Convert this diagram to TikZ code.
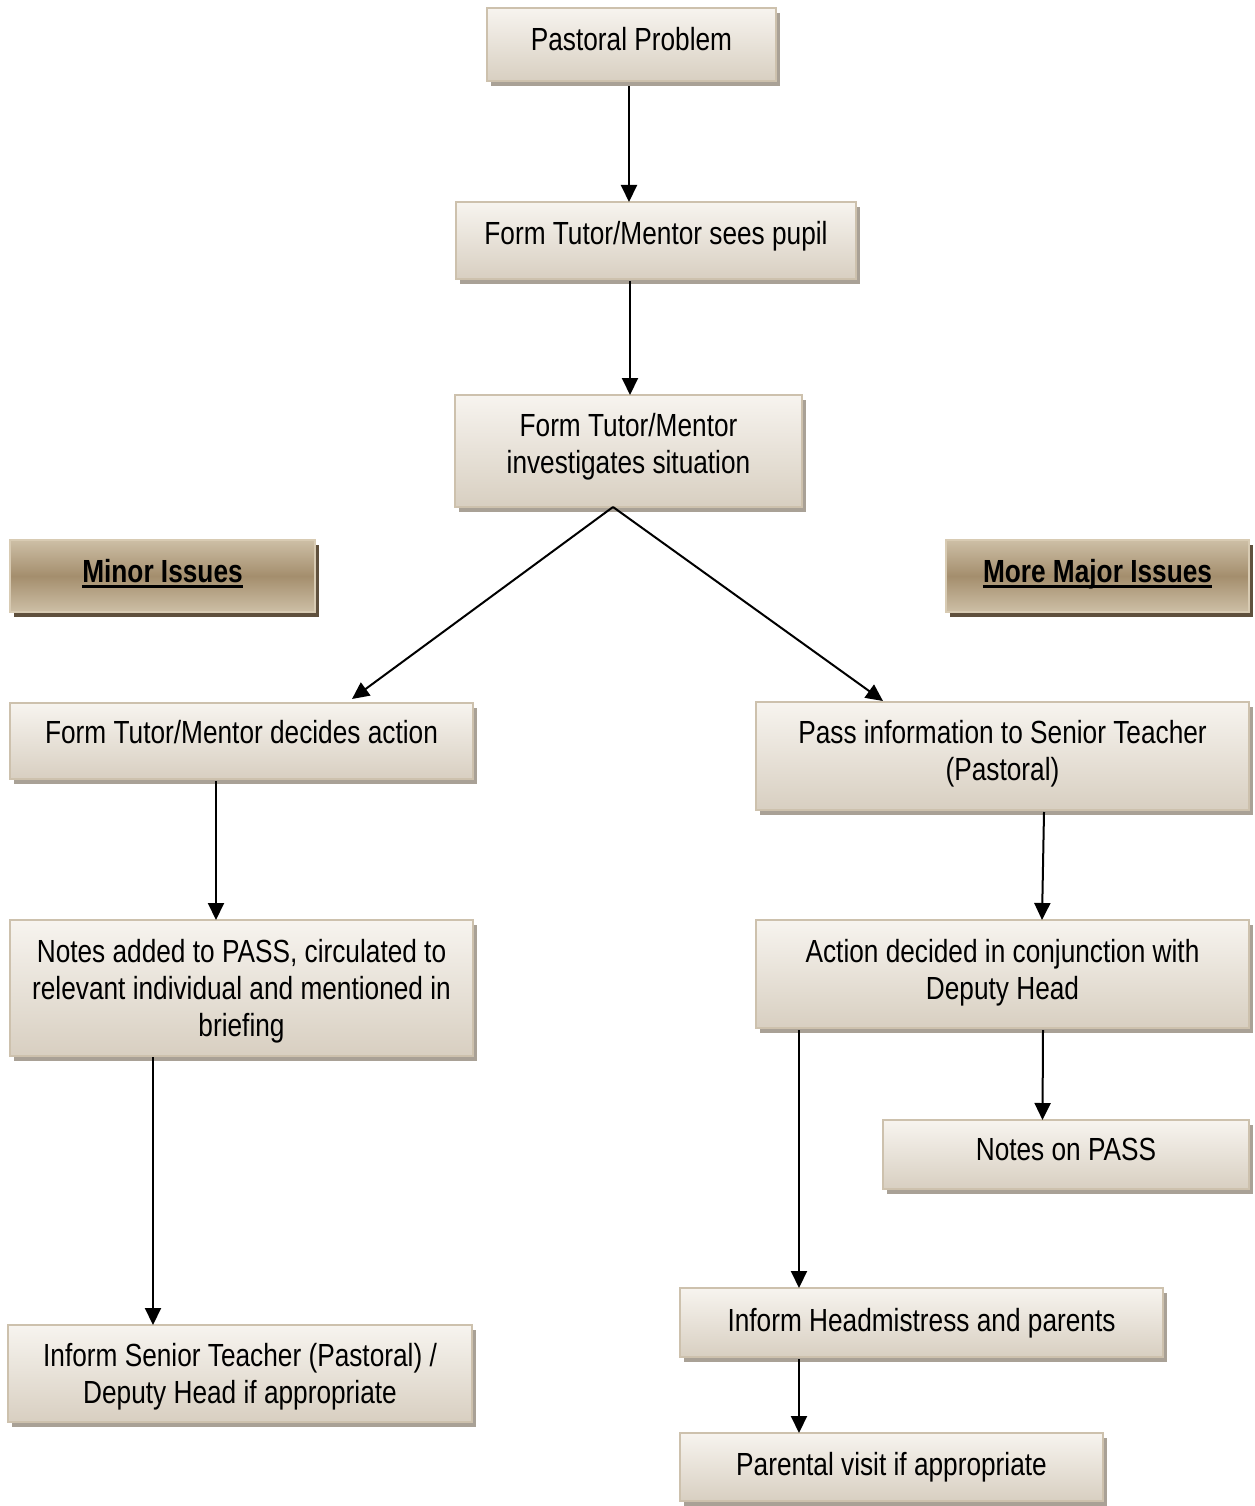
\documentclass[tikz,border=0pt]{standalone}
\usepackage{fontspec}
\setmainfont{Liberation Sans}[FakeStretch=0.82]
\usetikzlibrary{arrows.meta,shadows}
\definecolor{boxtop}{HTML}{F7F4EF}
\definecolor{boxbot}{HTML}{D8CFC1}
\definecolor{boxborder}{HTML}{CDC1AD}
\definecolor{boxshadow}{HTML}{A9A196}
\definecolor{isstop}{HTML}{CDBFA6}
\definecolor{issmid}{HTML}{A48E6D}
\definecolor{issborder}{HTML}{D8CBB3}
\definecolor{issshadow}{HTML}{5F503D}
\newcommand\mkbox[6][plainbox]{%
  \node[#1, minimum width={#5pt-#3pt}, minimum height={#6pt-#4pt}] (#2) at ({(#3+#5)/2},{(#4+#6)/2}) {};}
\begin{document}
\begin{tikzpicture}[x=1pt,y=-1pt,
  plainbox/.style={rectangle, inner sep=0pt, outer sep=0pt, draw=boxborder, line width=1.6pt,
    top color=boxtop, bottom color=boxbot,
    drop shadow={shadow xshift=4pt, shadow yshift=-5pt, fill=boxshadow, opacity=1}},
  issuebox/.style={rectangle, inner sep=0pt, outer sep=0pt, draw=issborder, line width=1.6pt,
    top color=isstop, bottom color=isstop, middle color=issmid,
    drop shadow={shadow xshift=4pt, shadow yshift=-5pt, fill=issshadow, opacity=1}},
  txt/.style={inner sep=0pt, anchor=base, align=center, font=\fontsize{32}{37}\selectfont},
  ttxt/.style={txt, text width=#1, align=flush center},
  arr/.style={draw=black, line width=2pt, -{Triangle[length=17pt,width=16pt]}},
  uline/.style={draw=black, line width=3pt}
]
\useasboundingbox (0,0) rectangle (1254,1506);

% boxes
\mkbox{n1}{487}{8}{776}{81}
\mkbox{n2}{456}{202}{856}{279}
\mkbox{n3}{455}{395}{802}{507}
\mkbox[issuebox]{n4}{10}{540}{315}{612}
\mkbox[issuebox]{n5}{946}{540}{1249}{612}
\mkbox{n6}{10}{703}{473}{779}
\mkbox{n7}{756}{702}{1249}{810}
\mkbox{n8}{10}{920}{473}{1056}
\mkbox{n9}{756}{920}{1249}{1028}
\mkbox{n10}{883}{1120}{1249}{1189}
\mkbox{n11}{680}{1288}{1163}{1357}
\mkbox{n12}{680}{1433}{1103}{1501}
\mkbox{n13}{8}{1325}{472}{1422}

% texts
\node[txt] (t1) at (631.5,50.5) {Pastoral Problem};
\node[txt] (t2) at (656,244) {Form Tutor/Mentor sees pupil};
\node[ttxt=360pt] (t3) at (628.5,436) {Form Tutor/Mentor\\investigates situation};
\node[txt] (t4) at (162.5,582) {\textbf{Minor Issues}};
\node[txt] (t5) at (1097.5,582) {\textbf{More Major Issues}};
\node[txt] (t6) at (241.5,743) {Form Tutor/Mentor decides action};
\node[ttxt=480pt] (t7) at (1002.5,743) {Pass information to Senior Teacher\\(Pastoral)};
\node[ttxt=470pt] (t8) at (241.5,962) {Notes added to PASS, circulated to\\relevant individual and mentioned in\\briefing};
\node[ttxt=480pt] (t9) at (1002.5,962) {Action decided in conjunction with\\Deputy Head};
\node[txt] (t10) at (1066,1160) {Notes on PASS};
\node[txt] (t11) at (921.5,1331) {Inform Headmistress and parents};
\node[txt] (t12) at (891.5,1475) {Parental visit if appropriate};
\node[ttxt=470pt] (t13) at (240,1366) {Inform Senior Teacher (Pastoral) /\\Deputy Head if appropriate};

% underlines
\draw[uline] ([yshift=-4pt]t4.base west) -- ([yshift=-4pt]t4.base east);
\draw[uline] ([yshift=-4pt]t5.base west) -- ([yshift=-4pt]t5.base east);

% connectors
\draw[arr] ([xshift=-2.5pt,yshift=-5pt]n1.south) -- ([xshift=-27pt]n2.north);
\draw[arr] ([xshift=-26pt,yshift=-2pt]n2.south) -- ([xshift=1.5pt]n3.north);
\draw[arr] ([xshift=-15.5pt]n3.south) -- ([xshift=110.5pt,yshift=4pt]n6.north);
\draw[arr] ([xshift=-15.5pt]n3.south) -- ([xshift=-119.5pt,yshift=1pt]n7.north);
\draw[arr] ([xshift=-25.5pt,yshift=-2pt]n6.south) -- ([xshift=-25.5pt]n8.north);
\draw[arr] ([xshift=41.5pt,yshift=-2pt]n7.south) -- ([xshift=39.5pt]n9.north);
\draw[arr] ([xshift=40.5pt,yshift=-2pt]n9.south) -- ([xshift=-23.5pt]n10.north);
\draw[arr] ([xshift=-203.5pt,yshift=-2pt]n9.south) -- ([xshift=-122.5pt]n11.north);
\draw[arr] ([xshift=-88.5pt,yshift=-1pt]n8.south) -- ([xshift=-87pt]n13.north);
\draw[arr] ([xshift=-122.5pt,yshift=-2pt]n11.south) -- ([xshift=-92.5pt]n12.north);
\end{tikzpicture}
\end{document}
